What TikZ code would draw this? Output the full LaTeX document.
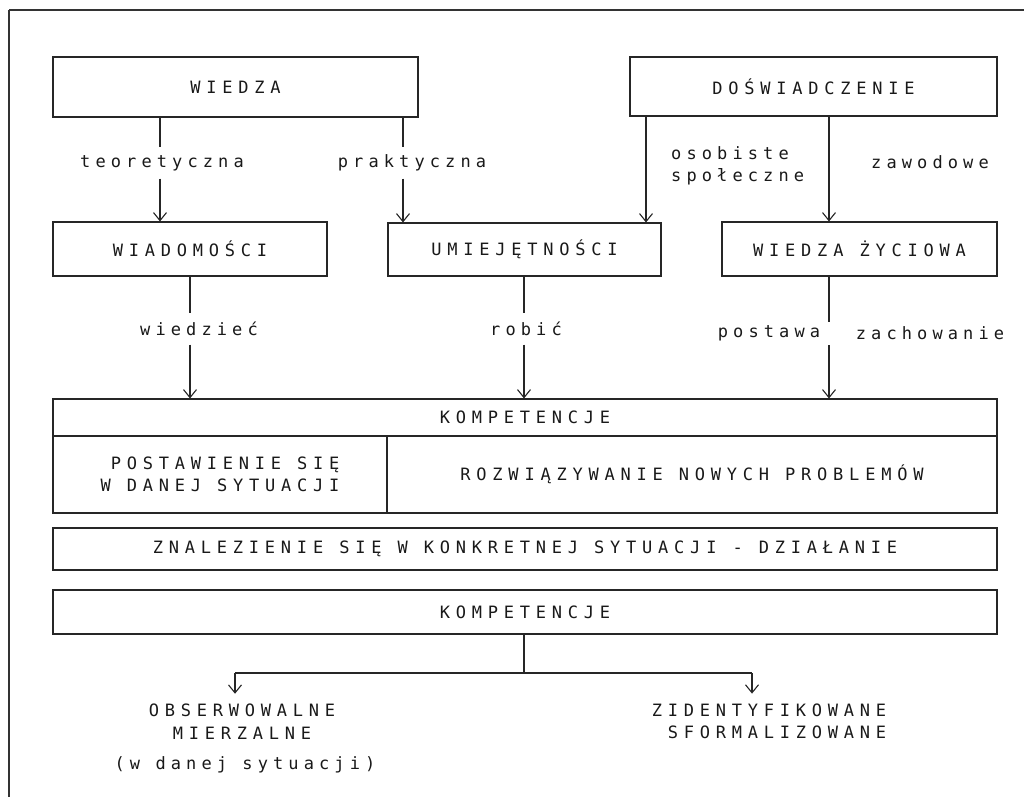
\documentclass[tikz,border=0pt]{standalone}
\usepackage{fontspec}
\newfontfamily\dmono[LetterSpace=34]{DejaVu Sans Mono}
\newfontfamily\dmonol[LetterSpace=30]{DejaVu Sans Mono}
\usetikzlibrary{arrows.meta}
\begin{document}
\begin{tikzpicture}[x=1pt,y=-1pt,
  ink/.style={draw=black!85, line width=1.1pt},
  txt/.style={text=black!90, font=\dmono\fontsize{17}{22.5}\selectfont},
  ltxt/.style={text=black!90, font=\dmonol\fontsize{17}{22.5}\selectfont},
  box/.style={ink, txt, rectangle, inner sep=0pt},
  lbl/.style={ltxt, inner xsep=3pt, inner ysep=0pt, minimum height=31pt},
  free/.style={txt, inner sep=0pt},
  lfree/.style={ltxt, inner sep=0pt},
  arr/.style={ink, -{Straight Barb[length=8pt,width=13pt,line width=1.1pt]}},
]
\useasboundingbox (0,0) rectangle (1024,797);
\fill[white] (0,0) rectangle (1024,797);
% page frame
\draw[black!80, line width=2pt] (9,10) -- (1024,10);
\draw[black!80, line width=1.5pt] (9,10) -- (9,797);

% column coordinates
\coordinate (c1) at (160,0);
\coordinate (c2) at (403,0);
\coordinate (c3) at (646,0);
\coordinate (c4) at (829,0);
\coordinate (d1) at (190,0);
\coordinate (d2) at (524,0);

% top boxes
\node[box, minimum width=365pt, minimum height=60pt] (wiedza) at (235.5,87) {WIEDZA};
\node[box, minimum width=367pt, minimum height=59pt] (dosw) at (813.5,86.5) {DOŚWIADCZENIE};

% middle boxes
\node[box, minimum width=274pt, minimum height=54pt] (wiad) at (190,249) {WIADOMOŚCI};
\node[box, minimum width=273pt, minimum height=53pt] (umie) at (524.5,249.5) {UMIEJĘTNOŚCI};
\node[box, minimum width=275pt, minimum height=54pt] (zyc) at (859.5,249) {WIEDZA ŻYCIOWA};

% KOMPETENCJE table
\node[box, minimum width=944pt, minimum height=37pt] (khead) at (525,417.5) {KOMPETENCJE};
\node[box, minimum width=334pt, minimum height=77pt, align=right] (kleft) at (220,474.5) {POSTAWIENIE SIĘ\\W DANEJ SYTUACJI};
\node[box, minimum width=610pt, minimum height=77pt] (kright) at (692,474.5) {ROZWIĄZYWANIE NOWYCH PROBLEMÓW};

\node[box, minimum width=944pt, minimum height=42pt] (znal) at (525,549) {ZNALEZIENIE SIĘ W KONKRETNEJ SYTUACJI - DZIAŁANIE};
\node[box, minimum width=944pt, minimum height=44pt] (komp2) at (525,612) {KOMPETENCJE};

% labels, upper level
\node[lbl] (teo) at (162,163) {teoretyczna};
\node[lbl] (prak) at (412,163) {praktyczna};
\node[lfree, anchor=west, align=left] (osob) at (671,166) {osobiste\\społeczne};
\node[lfree] (zaw) at (930,162) {zawodowe};

% labels, lower level
\node[lbl] (wdz) at (199,329) {wiedzieć};
\node[lbl] (rob) at (526,329) {robić};
\node[lfree] (post) at (769,333) {postawa};
\node[lfree] (zach) at (930,333) {zachowanie};

% bottom texts
\node[free, align=center, inner ysep=10pt] (obs) at (242,721.5) {OBSERWOWALNE\\MIERZALNE};
\node[lfree] (sit) at (245,765) {(w danej sytuacji)};
\node[free, align=right, inner ysep=10pt] (zid) at (769,721.5) {ZIDENTYFIKOWANE\\SFORMALIZOWANE};

% connectors, upper level
\draw[ink] (c1 |- wiedza.south) -- (c1 |- teo.north);
\draw[arr] (c1 |- teo.south) -- (c1 |- wiad.north);
\draw[ink] (c2 |- wiedza.south) -- (c2 |- prak.north);
\draw[arr] (c2 |- prak.south) -- (c2 |- umie.north);
\draw[arr] (c3 |- dosw.south) -- (c3 |- umie.north);
\draw[arr] (c4 |- dosw.south) -- (c4 |- zyc.north);

% connectors, lower level
\draw[ink] (d1 |- wiad.south) -- (d1 |- wdz.north);
\draw[arr] (d1 |- wdz.south) -- (d1 |- khead.north);
\draw[ink] (d2 |- umie.south) -- (d2 |- rob.north);
\draw[arr] (d2 |- rob.south) -- (d2 |- khead.north);
\coordinate (g1) at (829,322);
\coordinate (g2) at (829,345);
\draw[ink] (c4 |- zyc.south) -- (g1);
\draw[arr] (g2) -- (c4 |- khead.north);

% branch
\coordinate (bj) at (524,673);
\coordinate (bl) at (235,673);
\coordinate (br) at (752,673);
\draw[ink] (d2 |- komp2.south) -- (bj);
\draw[ink] (bl) -- (br);
\draw[arr] (bl) -- (bl |- obs.north);
\draw[arr] (br) -- (br |- zid.north);
\end{tikzpicture}
\end{document}
